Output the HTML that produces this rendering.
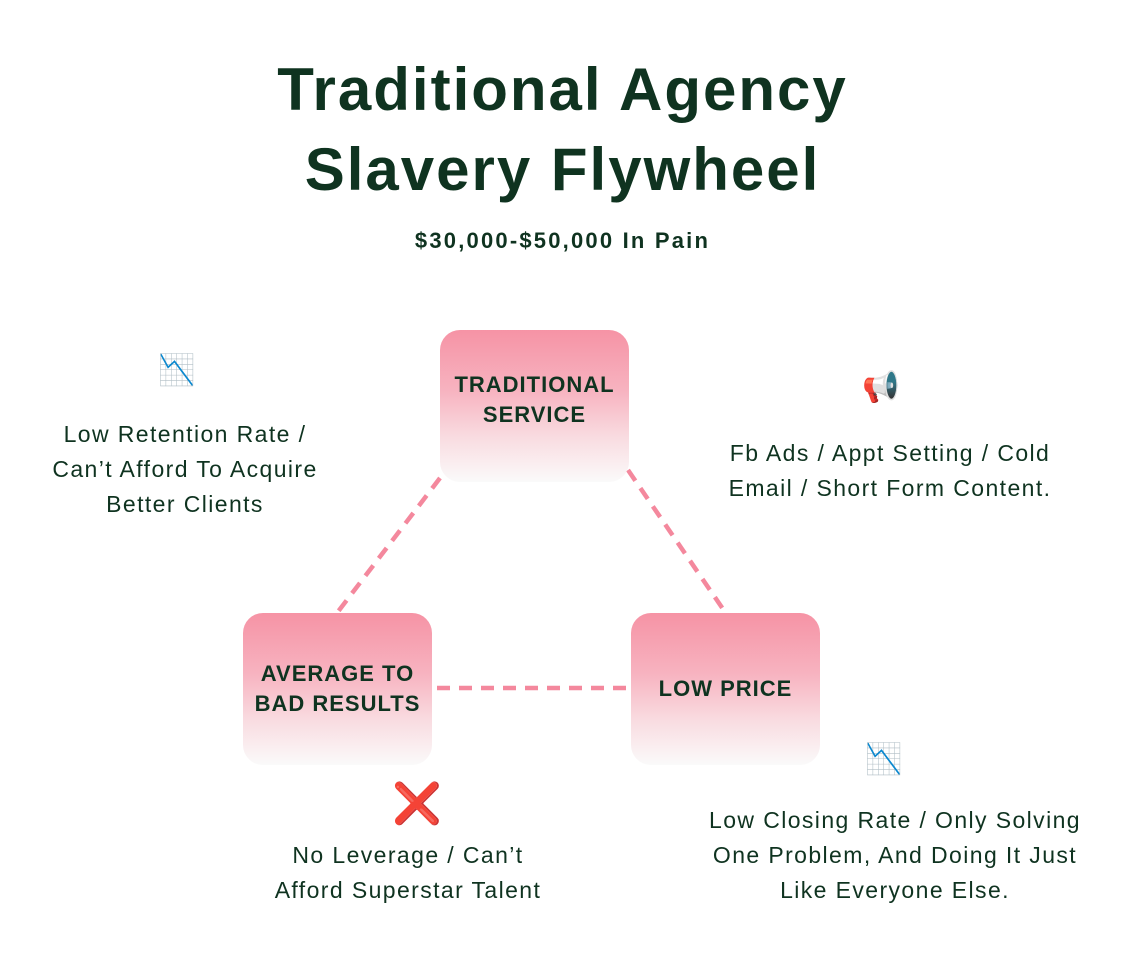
<!DOCTYPE html>
<html><head><meta charset="utf-8"><style>
body{margin:0;width:1125px;height:955px;background:#fff;position:relative;font-family:"Liberation Sans",sans-serif;color:#0f3320;overflow:hidden}
.a{position:absolute}
.t{position:absolute;left:0;width:1125px;text-align:center;font-weight:bold}
.box{position:absolute;width:189px;height:152px;border-radius:20px;background:linear-gradient(180deg,#f693a5 0%,#f7b3c0 40%,#f9dbe0 70%,#fafafa 100%);display:flex;align-items:center;justify-content:center;text-align:center;font-weight:bold;font-size:22px;line-height:30px;letter-spacing:1px}
.txt{position:absolute;text-align:center;font-size:23px;line-height:35px;letter-spacing:1.4px}
.ic{position:absolute;font-size:30px;line-height:1;font-family:"DejaVu Sans",sans-serif}
</style></head><body>
<div class="t" style="top:50px;font-size:60px;line-height:80px;letter-spacing:2px">Traditional Agency<br>Slavery Flywheel</div>
<div class="t" style="top:228px;font-size:22px;letter-spacing:2.2px">$30,000-$50,000 In Pain</div>
<svg class="a" style="left:0;top:0" width="1125" height="955">
<g stroke-width="4.5" stroke-dasharray="13 9" fill="none">
<line x1="440" y1="478" x2="337" y2="613" stroke="#f4889d"/>
<line x1="628" y1="470" x2="725" y2="612" stroke="#f4889d"/>
<line x1="437" y1="688" x2="633" y2="688" stroke="#f4889d"/>
</g></svg>
<div class="box" style="left:440px;top:330px;padding-bottom:12px;box-sizing:border-box">TRADITIONAL<br>SERVICE</div>
<div class="box" style="left:243px;top:613px">AVERAGE TO<br>BAD RESULTS</div>
<div class="box" style="left:631px;top:613px">LOW PRICE</div>
<div class="ic" style="left:158px;top:356px">📉</div>
<div class="txt" style="left:0px;width:370px;top:417px">Low Retention Rate /<br>Can’t Afford To Acquire<br>Better Clients</div>
<div class="ic" style="left:862px;top:373px">📢</div>
<div class="txt" style="left:680px;width:420px;top:436px">Fb Ads / Appt Setting / Cold<br>Email / Short Form Content.</div>
<div class="ic" style="left:392px;top:784px;color:#e00;font-size:40px">❌</div>
<div class="txt" style="left:208px;width:400px;top:838px">No Leverage / Can’t<br>Afford Superstar Talent</div>
<div class="ic" style="left:865px;top:745px">📉</div>
<div class="txt" style="left:655px;width:480px;top:803px">Low Closing Rate / Only Solving<br>One Problem, And Doing It Just<br>Like Everyone Else.</div>
</body></html>
